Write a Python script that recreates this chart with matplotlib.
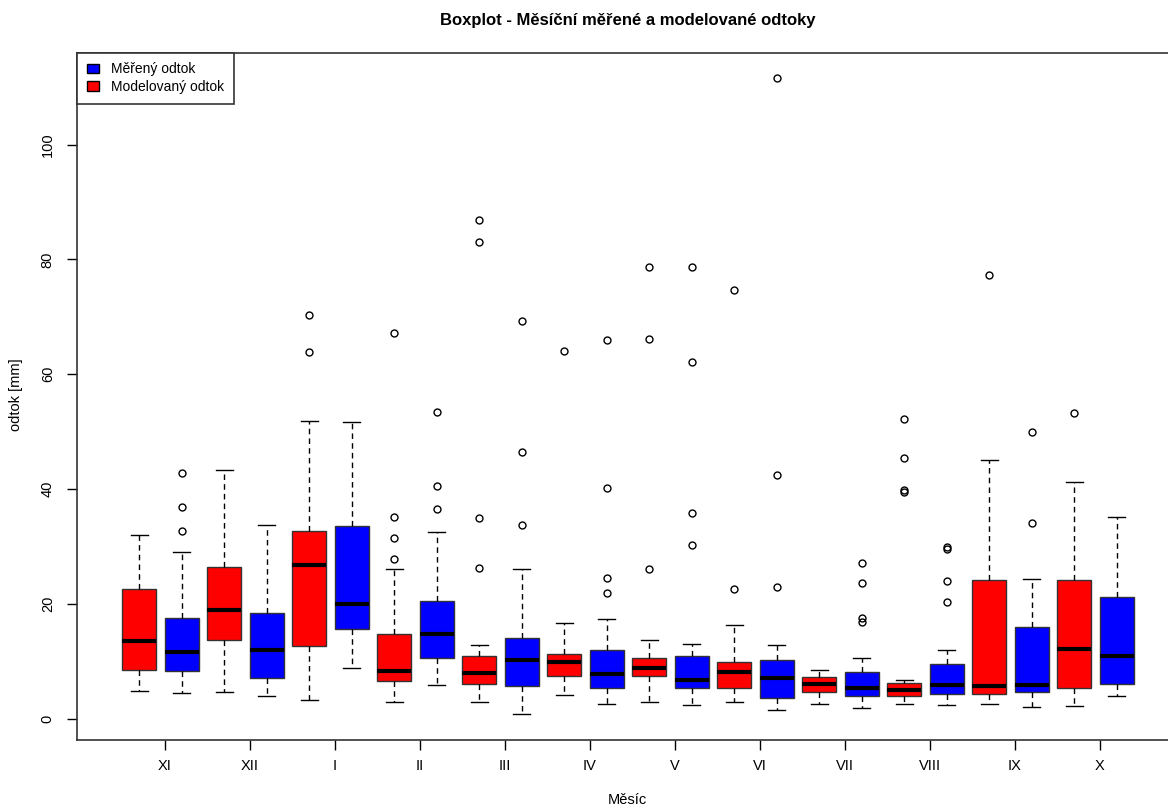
import numpy as np
import matplotlib.pyplot as plt
import matplotlib.patches as mpatches

plt.rcParams['font.family'] = ['Liberation Sans', 'DejaVu Sans']

#%% Data: monthly box statistics (hydrological year XI - X)

mesice = ["XI", "XII", "I", "II", "III", "IV", "V", "VI", "VII", "VIII", "IX", "X"]

# measured runoff [mm]
mer_lo  = [4.5, 4.0, 8.8, 5.8, 0.9, 2.5, 2.4, 1.6, 1.8, 2.4, 2.0, 3.9]
mer_q1  = [8.4, 7.1, 15.6, 10.65, 5.75, 5.3, 5.4, 3.65, 3.9, 4.3, 4.7, 6.1]
mer_med = [11.7, 11.9, 19.9, 14.7, 10.3, 7.8, 6.8, 7.1, 5.4, 5.9, 5.9, 10.9]
mer_q3  = [17.6, 18.4, 33.6, 20.5, 14.0, 11.9, 10.9, 10.3, 8.2, 9.6, 15.9, 21.2]
mer_hi  = [29.0, 33.8, 51.6, 32.6, 26.05, 17.4, 13.1, 12.9, 10.5, 11.9, 24.3, 35.1]
mer_out = [[32.7, 36.9, 42.8], [], [], [36.5, 40.6, 53.4], [33.8, 46.5, 69.2],
           [21.85, 24.6, 40.2, 65.9], [30.25, 35.9, 62.05, 78.7], [22.9, 42.5, 111.6],
           [16.8, 17.5, 23.7, 27.1], [20.4, 24.0, 29.5, 29.9], [34.1, 49.9], []]

# modelled runoff [mm]
mod_lo  = [4.9, 4.7, 3.3, 3.0, 3.0, 4.1, 3.0, 3.0, 2.6, 2.6, 2.6, 2.2]
mod_q1  = [8.55, 13.8, 12.6, 6.6, 6.0, 7.5, 7.5, 5.4, 4.7, 4.0, 4.3, 5.4]
mod_med = [13.6, 18.9, 26.7, 8.3, 8.0, 9.8, 8.8, 8.2, 6.1, 5.05, 5.7, 12.1]
mod_q3  = [22.6, 26.4, 32.7, 14.7, 11.0, 11.3, 10.5, 9.8, 7.3, 6.2, 24.1, 24.1]
mod_hi  = [32.0, 43.3, 51.8, 26.05, 12.9, 16.6, 13.8, 16.3, 8.5, 6.8, 45.1, 41.2]
mod_out = [[], [], [63.8, 70.3], [27.8, 31.5, 35.1, 67.1], [26.2, 34.9, 83.1, 86.9],
           [64.0], [26.05, 66.1, 78.7], [22.6, 74.7], [], [39.5, 39.9, 45.4, 52.2],
           [77.3], [53.3]]


def stats(lo, q1, med, q3, hi, out):
    return [dict(whislo=a, q1=b, med=c, q3=d, whishi=e, fliers=f)
            for a, b, c, d, e, f in zip(lo, q1, med, q3, hi, out)]


st_mod = stats(mod_lo, mod_q1, mod_med, mod_q3, mod_hi, mod_out)
st_mer = stats(mer_lo, mer_q1, mer_med, mer_q3, mer_hi, mer_out)

pos_mod = np.arange(1, 24, 2)
pos_mer = np.arange(2, 25, 2)

#%% Plot

W, H = 1168, 809
fig = plt.figure(figsize=(W / 100, H / 100), dpi=100)
unit = 42.5 / W
# plot region runs a little past the right edge of the image
ax = fig.add_axes([77 / W, 69 / H, 25.92 * unit, 687.3 / H])

common = dict(widths=0.8, capwidths=0.4, patch_artist=True,
              whiskerprops=dict(color="black", linestyle=(0, (4, 3)), lw=1),
              capprops=dict(color="black", lw=1),
              medianprops=dict(color="black", lw=3, solid_capstyle="butt"),
              flierprops=dict(marker="o", markerfacecolor="none", markeredgecolor="black",
                              markersize=5, markeredgewidth=1))

ax.bxp(st_mod, positions=pos_mod, boxprops=dict(facecolor="red", edgecolor="#333333", lw=1), **common)
ax.bxp(st_mer, positions=pos_mer, boxprops=dict(facecolor="blue", edgecolor="#333333", lw=1), **common)

ax.set_xlim(-0.46, 25.46)
ax.set_ylim(-3.70, 116.0)

ax.set_xticks(pos_mod + 0.6)
ax.set_xticklabels(mesice, fontsize=10.5)
ax.set_yticks(np.arange(0, 101, 20))
ax.set_yticklabels(np.arange(0, 101, 20), fontsize=10.5, rotation=90, va="center")
ax.tick_params(length=7, width=1)
ax.tick_params(axis="x", pad=7)
ax.tick_params(axis="y", pad=9)

for s in ax.spines.values():
    s.set_color("#333333")
    s.set_linewidth(1.2)

fig.text(627.5 / W, 1 - 800 / H, "Měsíc", ha="center", va="center", fontsize=10.5)
fig.text(16 / W, 1 - 395 / H, "odtok [mm]", ha="center", va="center", rotation=90, fontsize=10.5)
fig.text(627.5 / W, 1 - 21 / H, "Boxplot - Měsíční měřené a modelované odtoky",
         ha="center", va="center", fontsize=12, fontweight="bold")

blue_patch = mpatches.Patch(facecolor="blue", edgecolor="black", label="Měřený odtok")
red_patch = mpatches.Patch(facecolor="red", edgecolor="black", label="Modelovaný odtok")
leg = ax.legend(handles=[blue_patch, red_patch], loc="upper left", fontsize=10,
                borderaxespad=0, fancybox=False, framealpha=1, edgecolor="#333333",
                handlelength=0.85, handleheight=0.65, handletextpad=0.9,
                borderpad=0.7, labelspacing=0.25)
leg.get_frame().set_linewidth(1.2)

plt.savefig("out.png", dpi=100)
